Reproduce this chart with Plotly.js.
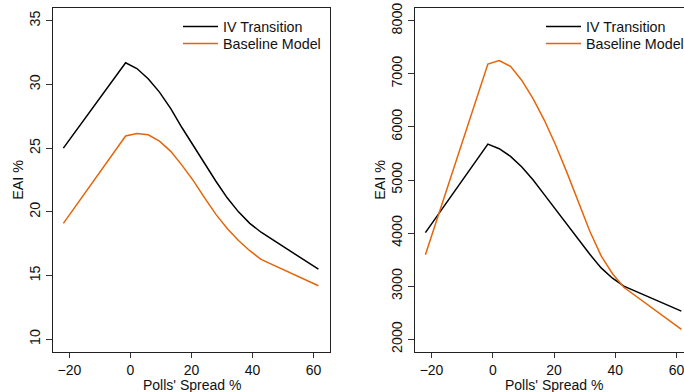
<!DOCTYPE html>
<html>
<head>
<meta charset="utf-8">
<script src="https://cdn.plot.ly/plotly-3.0.1.min.js"></script>
<style>
html,body{margin:0;padding:0;overflow:hidden;background:#fff;}
#chart{width:700px;height:392px;}
</style>
</head>
<body>
<div id="chart"></div>
<script>
// Polls' spread grid (x values)
const spread = [-22, -1.6, 2.1, 5.8, 9.5, 13.2, 16.9, 20.6, 24.3, 28.0, 31.7, 35.4, 39.1, 42.8, 61.6];

// Left panel (EAI %)
const leftIV       = [25.0, 31.7, 31.25, 30.45, 29.4, 28.1, 26.6, 25.2, 23.7, 22.4, 21.1, 20.0, 19.1, 18.4, 15.5];
const leftBaseline = [19.1, 25.95, 26.15, 26.05, 25.55, 24.75, 23.65, 22.45, 21.1, 19.8, 18.7, 17.75, 16.95, 16.27, 14.2];

// Right panel
const rightIV       = [4010, 5675, 5590, 5445, 5245, 5000, 4720, 4440, 4155, 3875, 3600, 3345, 3150, 3000, 2530];
const rightBaseline = [3590, 7185, 7250, 7140, 6875, 6530, 6120, 5650, 5130, 4600, 4035, 3570, 3235, 2980, 2185];

const seriesNames = ['IV Transition', 'Baseline Model'];
const xTitle = "Polls' Spread %";
const yTitle = 'EAI %';
const xTicks = [-20, 0, 20, 40, 60];
const yTicksLeft = [10, 15, 20, 25, 30, 35];
const yTicksRight = [2000, 3000, 4000, 5000, 6000, 7000, 8000];

const BLACK = '#000000';
const ORANGE = 'rgb(228,102,10)';
const FONT = 'Liberation Sans, Arial, Helvetica, sans-serif';
const FS = 14.3;

const traces = [
  {x: spread, y: leftIV, name: seriesNames[0], mode: 'lines', line: {color: BLACK, width: 1.5}, xaxis: 'x', yaxis: 'y', legend: 'legend'},
  {x: spread, y: leftBaseline, name: seriesNames[1], mode: 'lines', line: {color: ORANGE, width: 1.5}, xaxis: 'x', yaxis: 'y', legend: 'legend2'},
  {x: spread, y: rightIV, name: seriesNames[0], mode: 'lines', line: {color: BLACK, width: 1.5}, xaxis: 'x2', yaxis: 'y2', legend: 'legend3'},
  {x: spread, y: rightBaseline, name: seriesNames[1], mode: 'lines', line: {color: ORANGE, width: 1.5}, xaxis: 'x2', yaxis: 'y2', legend: 'legend4'}
];

const W = 700;
function xAxis(domain, anchor) {
  return {
    domain: domain, anchor: anchor, range: [-25.4, 65.4],
    tickmode: 'array', tickvals: xTicks, ticktext: xTicks.map(v => v < 0 ? '\u2212' + Math.abs(v) : String(v)),
    ticks: 'outside', ticklen: 5, tickcolor: '#333', tickwidth: 1,
    showline: true, linecolor: '#222', linewidth: 1, mirror: true,
    showgrid: false, zeroline: false,
    tickfont: {family: FONT, size: 14, color: '#111'}
  };
}
function yAxis(range, ticks, anchor) {
  return {
    range: range, anchor: anchor, domain: [0, 1],
    tickmode: 'array', tickvals: ticks, tickangle: -90,
    ticks: 'outside', ticklen: 6, tickcolor: '#333', tickwidth: 1,
    showline: true, linecolor: '#222', linewidth: 1, mirror: true,
    showgrid: false, zeroline: false,
    tickfont: {family: FONT, size: FS, color: '#111'},
    title: {text: yTitle, font: {family: FONT, size: FS, color: '#111'}, standoff: 0}
  };
}
function legendAt(xpx, ypx) {
  return {
    x: xpx / W, xanchor: 'left', y: 1 - (ypx - 8) / 344, yanchor: 'top', xref: 'paper', yref: 'paper',
    bgcolor: 'rgba(0,0,0,0)', borderwidth: 0, itemwidth: 35, tracegroupgap: 0,
    font: {family: FONT, size: FS, color: '#111'}
  };
}
function xTitleAnn(axisRef) {
  return {
    text: xTitle, xref: axisRef + ' domain', x: 0.5, xanchor: 'center',
    yref: 'paper', y: 1 - (385 - 8) / 344, yanchor: 'middle',
    showarrow: false, font: {family: FONT, size: 14, color: '#111'}
  };
}

const layout = {
  width: W, height: 392,
  margin: {l: 0, r: 0, t: 8, b: 40},
  paper_bgcolor: '#fff', plot_bgcolor: '#fff',
  showlegend: true,
  xaxis: xAxis([53 / W, 330 / W], 'y'),
  yaxis: yAxis([9, 36], yTicksLeft, 'x'),
  xaxis2: xAxis([415 / W, 693 / W], 'y2'),
  yaxis2: yAxis([1760, 8240], yTicksRight, 'x2'),
  legend: legendAt(178, 10.6),
  legend2: legendAt(178, 27.6),
  legend3: legendAt(541, 10.6),
  legend4: legendAt(541, 27.6),
  annotations: [xTitleAnn('x'), xTitleAnn('x2')]
};

Plotly.newPlot('chart', traces, layout, {staticPlot: true, displayModeBar: false});
</script>
</body>
</html>
